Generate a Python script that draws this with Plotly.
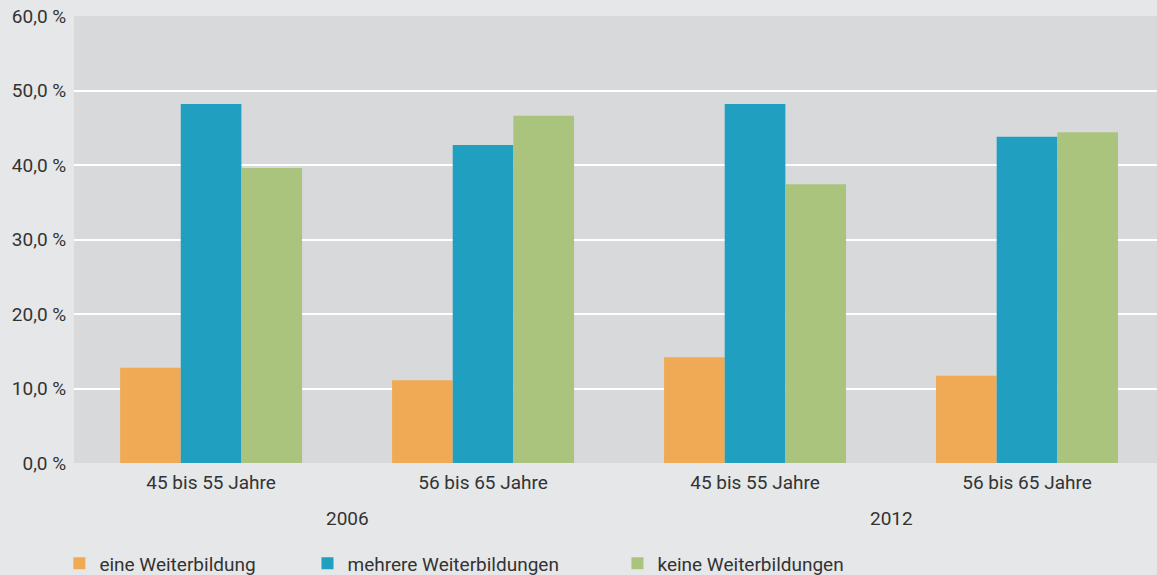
import plotly.graph_objects as go

years = ["2006", "2006", "2012", "2012"]
ages = ["45 bis 55 Jahre", "56 bis 65 Jahre", "45 bis 55 Jahre", "56 bis 65 Jahre"]
series_names = ["eine Weiterbildung", "mehrere Weiterbildungen", "keine Weiterbildungen"]
eine = [12.8, 11.1, 14.2, 11.7]
mehrere = [48.2, 42.7, 48.2, 43.8]
keine = [39.6, 46.6, 37.4, 44.4]
colors = ["#F0AA55", "#209FC0", "#AAC47D"]
y_ticks = [0, 10, 20, 30, 40, 50, 60]
year_labels = ["2006", "2012"]

FONT = "Roboto, Liberation Sans, sans-serif"
FS = 19
TXT = "#333333"

cats = [f"{y} {a}" for y, a in zip(years, ages)]

fig = go.Figure()
legend_ids = ["legend", "legend2", "legend3"]
for name, vals, col, lg in zip(series_names, [eine, mehrere, keine], colors, legend_ids):
    fig.add_trace(go.Bar(x=cats, y=vals, name=name, marker_color=col,
                         marker_line_width=0, legend=lg))

leg_common = dict(orientation="h", xanchor="left", yanchor="top", y=-0.182,
                  font=dict(size=FS, color=TXT, family=FONT),
                  bgcolor="rgba(0,0,0,0)", itemwidth=30)

fig.update_layout(
    width=1157, height=575,
    margin=dict(l=74, r=0, t=16, b=112, autoexpand=False),
    paper_bgcolor="#E6E7E9", plot_bgcolor="#D8D9DB",
    barmode="group", bargap=0.331, bargroupgap=0,
    font=dict(family=FONT, size=FS, color=TXT),
    showlegend=True,
    legend=dict(x=-0.0135, **leg_common),
    legend2=dict(x=0.2156, **leg_common),
    legend3=dict(x=0.5018, **leg_common),
)

# year group labels
for i, yl in enumerate(year_labels):
    fig.add_annotation(x=2 * i + 0.5, y=-0.125, xref="x", yref="paper",
                       text=yl, showarrow=False, yanchor="middle",
                       font=dict(size=FS, color=TXT, family=FONT))

fig.update_xaxes(type="category", tickvals=cats, ticktext=ages, showgrid=False,
                 range=[-0.504, 3.478],
                 showline=False, ticks="outside", ticklen=2,
                 tickcolor="rgba(0,0,0,0)", automargin=False,
                 tickfont=dict(size=FS))
fig.update_yaxes(range=[0, 60], tickvals=y_ticks,
                 ticktext=[f"{v:.1f}".replace(".", ",") + " %" for v in y_ticks],
                 showgrid=True, gridcolor="#FFFFFF", gridwidth=2, zeroline=False,
                 showline=False, ticks="outside", ticklen=3,
                 tickcolor="rgba(0,0,0,0)", automargin=False,
                 tickfont=dict(size=FS))

fig.write_html("out.html", config={"displayModeBar": False},
               post_script="document.body.style.margin='0';")
